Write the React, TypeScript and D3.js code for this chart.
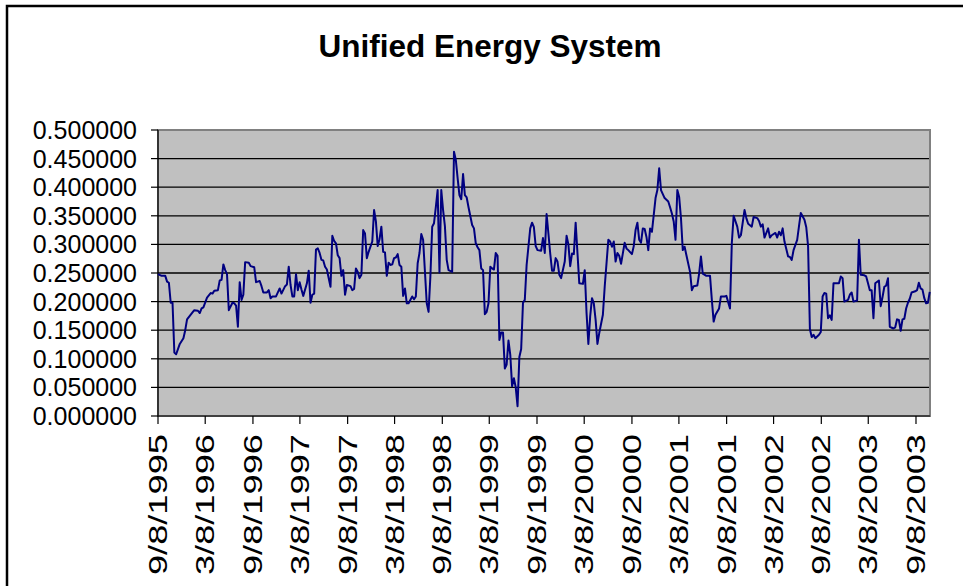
import React from "react";
import * as d3 from "d3";

const title = "Unified Energy System";
const startDate = new Date(Date.UTC(1995, 8, 8));
const endDays = 2976;
const yTicks = [0, 0.05, 0.1, 0.15, 0.2, 0.25, 0.3, 0.35, 0.4, 0.45, 0.5];
const tickDates = [
  "1995-09-08", "1996-03-08", "1996-09-08", "1997-03-08", "1997-09-08",
  "1998-03-08", "1998-09-08", "1999-03-08", "1999-09-08", "2000-03-08",
  "2000-09-08", "2001-03-08", "2001-09-08", "2002-03-08", "2002-09-08",
  "2003-03-08", "2003-09-08",
];

// weeks since 9/8/1995
const weeks = [
  0, 2, 4, 5, 6, 7, 8, 9, 10, 12, 14, 15, 16, 19, 20, 22, 23, 24, 25, 27, 29, 30, 31, 33, 34, 35, 36, 37, 38, 39,
  41, 42, 43, 44, 45, 46, 47, 48, 50, 51, 53, 54, 56, 57, 58, 60, 61, 62, 63, 65, 67, 68, 70, 71, 72, 73, 74, 75, 76, 77,
  78, 79, 80, 82, 83, 84, 85, 86, 87, 88, 89, 90, 91, 92, 93, 95, 96, 97, 98, 99, 100, 101, 102, 103, 104, 106, 107, 108, 109, 110,
  111, 112, 113, 114, 115, 116, 118, 119, 120, 121, 122, 123, 124, 125, 126, 127, 128, 129, 130, 131, 132, 133, 134, 135, 136, 137, 138, 140, 141, 142,
  143, 144, 145, 146, 148, 149, 150, 151, 152, 153, 154, 155, 156, 157, 158, 159, 160, 162, 163, 164, 165, 166, 167, 168, 169, 170, 171, 173, 174, 175,
  176, 177, 178, 179, 180, 181, 182, 183, 184, 185, 186, 187, 188, 189, 190, 191, 192, 193, 194, 195, 196, 197, 198, 199, 200, 201, 202, 203, 204, 205,
  206, 207, 208, 209, 211, 212, 213, 214, 215, 216, 217, 218, 219, 220, 221, 222, 224, 225, 226, 227, 228, 229, 230, 231, 232, 234, 235, 236, 237, 238,
  239, 240, 241, 242, 243, 245, 246, 248, 249, 250, 251, 252, 253, 254, 255, 257, 258, 259, 261, 262, 263, 264, 265, 266, 267, 268, 269, 270, 271, 272,
  273, 274, 275, 276, 277, 279, 280, 281, 282, 283, 284, 285, 286, 287, 288, 289, 290, 291, 293, 294, 295, 297, 298, 299, 300, 302, 304, 305, 306, 307,
  309, 310, 312, 313, 315, 316, 317, 319, 320, 321, 323, 324, 325, 327, 328, 330, 331, 332, 333, 334, 336, 337, 338, 340, 341, 342, 343, 344, 345, 347,
  348, 349, 350, 352, 353, 354, 356, 357, 358, 359, 360, 361, 362, 364, 365, 366, 367, 368, 369, 370, 371, 372, 373, 375, 376, 377, 378, 380, 381, 382,
  383, 385, 386, 387, 389, 390, 391, 392, 393, 394, 395, 397, 398, 399, 400, 401, 402, 403, 405, 406, 407, 408, 409, 410, 411, 412, 413, 414, 415, 417,
  418, 419, 420, 421, 422, 423, 424, 425,
];

const values = [
  0.248, 0.245, 0.245, 0.235, 0.233, 0.198, 0.198, 0.111, 0.108, 0.126, 0.136, 0.150, 0.169, 0.181, 0.185, 0.184, 0.180, 0.188, 0.190, 0.207, 0.215, 0.214, 0.219, 0.220, 0.237, 0.238, 0.265, 0.255, 0.248, 0.185,
  0.198, 0.197, 0.193, 0.156, 0.234, 0.203, 0.212, 0.269, 0.268, 0.262, 0.260, 0.234, 0.236, 0.227, 0.216, 0.216, 0.220, 0.206, 0.209, 0.209, 0.223, 0.214, 0.227, 0.230, 0.261, 0.229, 0.209, 0.209, 0.248, 0.220,
  0.234, 0.221, 0.210, 0.232, 0.254, 0.198, 0.212, 0.214, 0.291, 0.293, 0.285, 0.273, 0.272, 0.261, 0.256, 0.226, 0.315, 0.306, 0.302, 0.281, 0.276, 0.245, 0.255, 0.212, 0.229, 0.227, 0.220, 0.222, 0.258, 0.252,
  0.241, 0.247, 0.325, 0.319, 0.276, 0.287, 0.305, 0.360, 0.340, 0.297, 0.309, 0.331, 0.287, 0.286, 0.245, 0.268, 0.264, 0.265, 0.276, 0.277, 0.283, 0.264, 0.261, 0.210, 0.223, 0.197, 0.197, 0.209, 0.204, 0.209,
  0.267, 0.285, 0.318, 0.308, 0.197, 0.182, 0.244, 0.331, 0.337, 0.365, 0.395, 0.251, 0.395, 0.360, 0.332, 0.273, 0.255, 0.252, 0.462, 0.448, 0.416, 0.386, 0.379, 0.423, 0.386, 0.382, 0.365, 0.334, 0.328, 0.302,
  0.295, 0.290, 0.258, 0.255, 0.178, 0.182, 0.197, 0.261, 0.258, 0.256, 0.285, 0.280, 0.133, 0.146, 0.146, 0.083, 0.090, 0.132, 0.107, 0.052, 0.066, 0.050, 0.017, 0.103, 0.117, 0.198, 0.203, 0.264, 0.296, 0.328,
  0.338, 0.330, 0.297, 0.290, 0.289, 0.311, 0.285, 0.353, 0.319, 0.284, 0.254, 0.254, 0.276, 0.270, 0.247, 0.241, 0.270, 0.315, 0.300, 0.262, 0.284, 0.283, 0.338, 0.285, 0.232, 0.231, 0.255, 0.180, 0.126, 0.174,
  0.206, 0.197, 0.168, 0.126, 0.145, 0.177, 0.226, 0.308, 0.305, 0.296, 0.305, 0.270, 0.285, 0.280, 0.266, 0.303, 0.293, 0.290, 0.283, 0.297, 0.325, 0.338, 0.308, 0.303, 0.328, 0.327, 0.313, 0.290, 0.328, 0.322,
  0.351, 0.381, 0.395, 0.433, 0.395, 0.381, 0.378, 0.375, 0.365, 0.354, 0.340, 0.308, 0.395, 0.383, 0.346, 0.290, 0.296, 0.281, 0.252, 0.220, 0.227, 0.228, 0.249, 0.279, 0.249, 0.245, 0.245, 0.203, 0.165, 0.177,
  0.188, 0.209, 0.209, 0.210, 0.188, 0.302, 0.350, 0.331, 0.312, 0.316, 0.360, 0.346, 0.336, 0.331, 0.348, 0.346, 0.341, 0.331, 0.335, 0.312, 0.328, 0.312, 0.316, 0.320, 0.312, 0.322, 0.316, 0.328, 0.305, 0.279,
  0.278, 0.273, 0.290, 0.308, 0.332, 0.355, 0.343, 0.330, 0.297, 0.152, 0.138, 0.142, 0.136, 0.142, 0.147, 0.209, 0.215, 0.214, 0.171, 0.176, 0.168, 0.232, 0.232, 0.232, 0.244, 0.241, 0.200, 0.203, 0.212, 0.216,
  0.200, 0.202, 0.308, 0.247, 0.246, 0.244, 0.232, 0.220, 0.220, 0.171, 0.232, 0.237, 0.192, 0.208, 0.226, 0.228, 0.241, 0.156, 0.153, 0.155, 0.169, 0.168, 0.149, 0.169, 0.170, 0.188, 0.198, 0.205, 0.216, 0.218,
  0.220, 0.233, 0.223, 0.221, 0.206, 0.197, 0.198, 0.217,
];

const W = 963;
const H = 586;
const plot = { left: 158, top: 130, right: 930, bottom: 416 };
const DAY = 86400000;
const font = "'Liberation Sans', Arial, sans-serif";

export default function App() {
  const x = d3
    .scaleUtc()
    .domain([startDate, new Date(startDate.getTime() + endDays * DAY)])
    .range([plot.left, plot.right]);
  const y = d3.scaleLinear().domain([0, 0.5]).range([plot.bottom, plot.top]);

  const pts = weeks.map((w, i) => ({
    d: new Date(startDate.getTime() + w * 7 * DAY),
    v: values[i],
  }));
  const line = d3
    .line<{ d: Date; v: number }>()
    .x((p) => x(p.d))
    .y((p) => y(p.v));

  const ticks = tickDates.map((s) => {
    const [yy, mm, dd] = s.split("-").map(Number);
    return { date: new Date(Date.UTC(yy, mm - 1, dd)), label: `${mm}/${dd}/${yy}` };
  });

  return (
    <svg
      width={W}
      height={H}
      style={{ position: "absolute", left: 0, top: 0, background: "#fff" }}
      fontFamily={font}
    >
      <rect x={7} y={6} width={1000} height={1000} fill="#fff" stroke="#000" strokeWidth={2.5} />
      <text x={490} y={57} textAnchor="middle" fontSize={31.5} fontWeight="bold" fill="#000">
        {title}
      </text>
      <rect
        x={plot.left}
        y={plot.top}
        width={plot.right - plot.left}
        height={plot.bottom - plot.top}
        fill="#c0c0c0"
        stroke="#808080"
        strokeWidth={2}
      />
      {yTicks.map((t) => (
        <g key={t}>
          {t > 0 && t < 0.5 && (
            <line x1={plot.left} x2={plot.right - 1} y1={y(t)} y2={y(t)} stroke="#000" strokeWidth={1.3} />
          )}
          <line x1={plot.left - 7} x2={plot.left} y1={y(t)} y2={y(t)} stroke="#000" strokeWidth={1.2} />
          <text x={137} y={y(t)} dy="0.36em" textAnchor="end" fontSize={25} fill="#000">
            {t.toFixed(6)}
          </text>
        </g>
      ))}
      <line x1={plot.left} x2={plot.left} y1={plot.top} y2={plot.bottom} stroke="#000" strokeWidth={1.2} />
      <line x1={plot.left} x2={plot.right} y1={plot.bottom} y2={plot.bottom} stroke="#000" strokeWidth={1.2} />
      {ticks.map((t) => (
        <g key={t.label}>
          <line x1={x(t.date)} x2={x(t.date)} y1={plot.bottom} y2={plot.bottom + 8} stroke="#000" strokeWidth={1.2} />
          <text
            transform={`translate(${x(t.date)},${plot.bottom + 18}) rotate(-90) scale(1.45,1)`}
            dy="0.36em"
            textAnchor="end"
            fontSize={25}
            fill="#000"
          >
            {t.label}
          </text>
        </g>
      ))}
      <path d={line(pts) || ""} fill="none" stroke="#000080" strokeWidth={2} strokeLinejoin="round" />
    </svg>
  );
}
